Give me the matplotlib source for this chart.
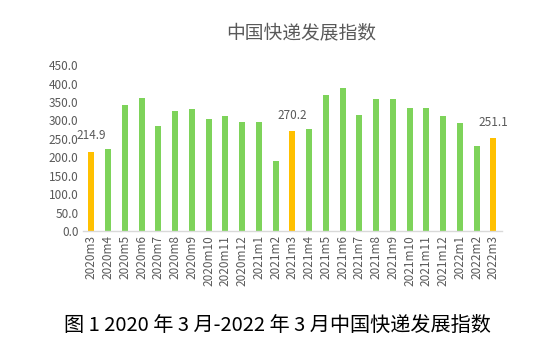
import matplotlib
matplotlib.use("Agg")
import matplotlib.pyplot as plt

plt.rcParams['font.family'] = ['Noto Sans CJK SC', 'DejaVu Sans']

categories = ["2020m3", "2020m4", "2020m5", "2020m6", "2020m7", "2020m8", "2020m9",
              "2020m10", "2020m11", "2020m12", "2021m1", "2021m2", "2021m3",
              "2021m4", "2021m5", "2021m6", "2021m7", "2021m8", "2021m9",
              "2021m10", "2021m11", "2021m12", "2022m1", "2022m2", "2022m3"]
values = [214.9, 222, 343, 362, 284, 326, 330, 303, 311, 297, 295, 189, 270.2,
          276, 370, 389, 316, 357, 359, 335, 335, 311, 292, 230, 251.1]
highlight = ["2020m3", "2021m3", "2022m3"]
yticks = [0, 50, 100, 150, 200, 250, 300, 350, 400, 450]

green = "#7ED35A"
gold = "#FFC000"
txt = "#595959"

fig = plt.figure(figsize=(5.49, 3.62), dpi=100)
ax = fig.add_axes([0.151, 0.362, 0.763, 0.458])

x = list(range(len(categories)))
colors = [gold if c in highlight else green for c in categories]
ax.bar(x, values, width=0.36, color=colors, zorder=2)

for i, (c, v) in enumerate(zip(categories, values)):
    if c in highlight:
        ax.annotate(f"{v:.1f}", (i, v), xytext=(0, 7), textcoords="offset points",
                    ha="center", va="bottom", fontsize=8.5, color=txt)

ax.set_xlim(-0.5, len(categories) - 0.5)
ax.set_ylim(0, 450)
ax.set_yticks(yticks)
ax.set_yticklabels([f"{t:.1f}" for t in yticks], fontsize=8.5, color=txt)
ax.set_xticks(x)
ax.set_xticklabels(categories, rotation=90, fontsize=8.5, color=txt)
ax.tick_params(axis='both', length=0, pad=3)
for s in ["top", "right", "left"]:
    ax.spines[s].set_visible(False)
ax.spines["bottom"].set_color("#D9D9D9")
ax.spines["bottom"].set_linewidth(1)

fig.text(0.548, 1 - 33 / 362, "中国快递发展指数", ha="center", va="center",
         fontsize=13.5, color=txt)
fig.text(0.506, 1 - 325 / 362, "图 1 2020 年 3 月-2022 年 3 月中国快递发展指数", ha="center",
         va="center", fontsize=14.5, color="black", fontweight="medium")

fig.savefig("out.png", dpi=100)
